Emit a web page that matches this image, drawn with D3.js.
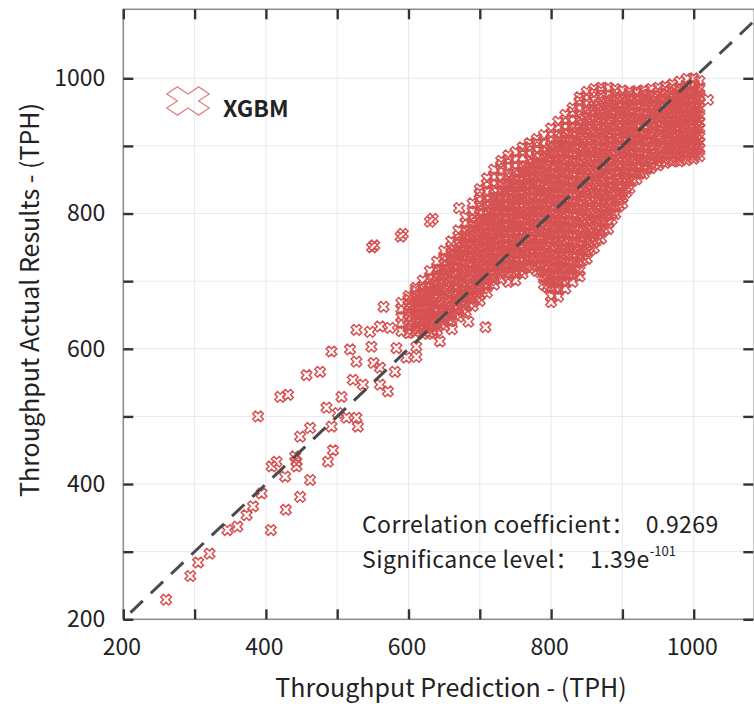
<!DOCTYPE html>
<html><head><meta charset="utf-8">
<script src="https://cdn.jsdelivr.net/npm/d3@7"></script>
<style>
body{margin:0;background:#fff}
text{font-family:"Noto Sans CJK SC","Noto Sans",sans-serif;fill:#222}
</style>
</head><body>
<svg id="chart" width="754" height="707"></svg>
<script>
// ---- data ----
const seriesName = "XGBM";
const xTicks = [200,300,400,500,600,700,800,900,1000];
const yTicks = [200,300,400,500,600,700,800,900,1000];
const xTickLabels = [200,400,600,800,1000];
const yTickLabels = [200,400,600,800,1000];
const xTitle = "Throughput Prediction - (TPH)";
const yTitle = "Throughput Actual Results - (TPH)";
const statLine1 = "Correlation coefficient\uFF1A  0.9269";
const statLine2 = "Significance level\uFF1A  1.39e";
const statExp = "-101";
const refLine = [210, 1085];

// sparse (individually readable) points
const sparsePred   = [260,294,305,321,346,360,407,373,382,428,394,389,448,462,427,408,415,441,443,443,448,462,420,431,457,476,487,494,492,485,501,506,513,527,529,492,518,522,536,527,527,546,548,551,560,560,560,565,571,574,581,583,597,611,611,644,549,552,589,592,630,634,671,623,634,661,684,708,1020];
const sparseActual = [229,264,284,297,332,337,332,354,367,362,386,500,381,406,411,426,433,441,433,426,470,483,529,532,561,566,433,450,485,513,505,529,498,498,485,596,599,554,547,581,628,625,603,579,572,547,633,662,537,631,566,601,587,588,603,611,750,753,766,770,788,792,808,636,622,629,640,632,968];

// dense cloud: one prediction value per column, actual values read down each column
const cloudPred = [590,600,610,620,630,640,650,660,670,680,690,700,710,720,730,740,750,760,770,780,790,800,810,820,830,840,850,860,870,880,890,900,910,920,930,940,950,960,970,980,990,1000,1008];
const cloudActual = [
[626,638,647,659,668],
[623,634,643,652,664,673,678],
[625,637,646,657,665,677,686,690],
[622,631,643,652,663,671,683,692,701],
[624,636,645,656,664,676,685,696,704,715],
[627,639,648,657,669,678,687,699,708,717,729],
[634,646,655,666,674,686,695,704,716,725,734,745],
[641,652,661,670,682,691,700,712,721,732,740,751,759],
[647,658,666,678,687,696,708,717,726,738,747,756,767,775],
[655,664,676,685,694,706,715,724,736,745,754,766,775,786,795],
[663,674,683,692,704,713,722,734,743,752,764,773,782,794,803,815],
[671,680,692,701,710,722,731,740,752,761,770,782,791,800,812,821,830,836],
[683,694,703,712,724,733,742,754,763,772,784,793,802,814,823,832,844,852],
[695,704,716,725,734,746,755,764,776,785,794,806,815,824,836,845,854,865],
[703,714,723,732,744,753,762,774,783,792,804,813,822,834,843,852,864,872,878],
[699,708,720,729,738,750,759,768,780,789,798,810,819,828,840,849,858,870,879,886],
[701,712,721,730,742,751,760,772,781,790,802,811,820,832,841,850,862,871,880,891],
[711,720,732,741,750,762,771,780,792,801,810,822,831,840,852,861,870,882,891,898],
[719,730,739,748,760,769,778,790,799,808,820,829,838,850,859,868,880,889,898,904],
[715,724,736,745,754,766,775,784,796,805,814,826,835,844,856,865,874,886,895,904,910],
[695,706,715,724,736,745,754,766,775,784,796,805,814,826,835,844,856,865,874,886,895,904,916],
[669,678,690,699,708,720,729,738,750,759,768,780,789,798,810,819,828,840,849,858,870,879,888,900,909,918,926],
[677,688,697,706,718,727,736,748,757,766,778,787,796,808,817,826,838,847,856,868,877,886,898,907,916,928,936],
[689,698,710,719,728,740,749,758,770,779,788,800,809,818,830,839,848,860,869,878,890,899,908,920,929,938,946],
[699,710,719,728,740,749,758,770,779,788,800,809,818,830,839,848,860,869,878,890,899,908,920,929,938,950,956],
[707,716,728,737,746,758,767,776,788,797,806,818,827,836,848,857,866,878,887,896,908,917,926,938,947,956,966,972],
[733,744,753,762,774,783,792,804,813,822,834,843,852,864,873,882,894,903,912,924,933,942,954,963,972,980],
[749,758,770,779,788,800,809,818,830,839,848,860,869,878,890,899,908,920,929,938,950,959,968,978,984],
[763,774,783,792,804,813,822,834,843,852,864,873,882,894,903,912,924,933,942,954,963,972,981,986],
[777,786,798,807,816,828,837,846,858,867,876,888,897,906,918,927,936,948,957,966,976,986],
[799,810,819,828,840,849,858,870,879,888,900,909,918,930,939,948,960,969,978,984],
[815,824,836,845,854,866,875,884,896,905,914,926,935,944,956,965,974,982],
[837,848,857,866,878,887,896,908,917,926,938,947,956,968,975,980],
[851,860,872,881,890,902,911,920,932,941,950,962,971,978,981],
[859,870,879,888,900,909,918,930,939,948,960,969,976,982],
[867,876,888,897,906,918,927,936,948,957,966,975,984],
[871,882,891,900,912,921,930,942,951,960,970,979,986],
[875,884,896,905,914,926,935,944,956,965,974,982,988],
[877,888,897,906,918,927,936,948,957,966,976,985,991],
[877,886,898,907,916,928,937,946,958,967,976,986,995],
[879,890,899,908,920,929,938,950,959,968,978,988,999],
[881,890,902,911,920,932,941,950,962,971,980,990,1000],
[885,896,905,914,926,935,944,956,965,974,985,996]
];

// dense core of the cloud, read between the columns above
const corePred = [605,615,625,635,645,655,665,675,685,695,705,715,725,735,745,755,765,775,785,795,805,815,825,835,845,855,865,875,885,895,905,915,925,935,945,955,965,975,985,995,1004];
const coreActual = [
[629,640,649,660,669],
[630,641,650,661,670,680],
[631,640,651,660,671,680,691],
[633,642,653,662,673,682,693,703],
[637,648,657,668,677,688,697,708,717],
[643,652,663,672,683,692,703,712,723,730],
[651,660,671,680,691,700,711,720,731,740,745],
[659,670,679,690,699,710,719,730,739,750,759],
[667,676,687,696,707,716,727,736,747,756,767,775],
[676,687,696,707,716,727,736,747,756,767,776,787],
[689,698,709,718,729,738,749,758,769,778,789,798,805],
[701,710,721,730,741,750,761,770,781,790,801,810,819],
[711,720,731,740,751,760,771,780,791,800,811,820,831],
[713,724,733,744,753,764,773,784,793,804,813,824,833,844],
[713,722,733,742,753,762,773,782,793,802,813,822,833,842,853],
[716,727,736,747,756,767,776,787,796,807,816,827,836,847,856],
[723,732,743,752,763,772,783,792,803,812,823,832,843,852,863,869],
[723,734,743,754,763,774,783,794,803,814,823,834,843,854,863,874],
[713,722,733,742,753,762,773,782,793,802,813,822,833,842,853,862,873,882],
[691,702,711,722,731,742,751,762,771,782,791,802,811,822,831,842,851,862,871,882,891],
[691,700,711,720,731,740,751,760,771,780,791,800,811,820,831,840,851,860,871,880,891,900],
[701,712,721,732,741,752,761,772,781,792,801,812,821,832,841,852,861,872,881,892,901,912],
[709,718,729,738,749,758,769,778,789,798,809,818,829,838,849,858,869,878,889,898,909,918],
[716,727,736,747,756,767,776,787,796,807,816,827,836,847,856,867,876,887,896,907,916,927],
[731,740,751,760,771,780,791,800,811,820,831,840,851,860,871,880,891,900,911,920,931,940],
[746,757,766,777,786,797,806,817,826,837,846,857,866,877,886,897,906,917,926,937,946,953],
[761,770,781,790,801,810,821,830,841,850,861,870,881,890,901,910,921,930,941,950,960],
[776,787,796,807,816,827,836,847,856,867,876,887,896,907,916,927,936,947,956,965],
[791,800,811,820,831,840,851,860,871,880,891,900,911,920,931,940,951,960,968],
[811,822,831,842,851,862,871,882,891,902,911,922,931,942,951,962,970],
[831,840,851,860,871,880,891,900,911,920,931,940,951,960,969],
[849,860,869,880,889,900,909,920,929,940,949,960,970],
[859,868,879,888,899,908,919,928,939,948,959,968],
[866,877,886,897,906,917,926,937,946,957,966,975],
[873,882,893,902,913,922,933,942,953,962,973],
[877,888,897,908,917,928,937,948,957,968,977],
[881,890,901,910,921,930,941,950,961,970,980],
[883,894,903,914,923,934,943,954,963,974,983],
[884,893,904,913,924,933,944,953,964,973,984],
[886,897,906,917,926,937,946,957,966,977,988],
[889,898,909,918,929,938,949,958,969,980]
];

// ---- build ----
const points = [];
sparsePred.forEach((p,i)=>points.push({p, a:sparseActual[i]}));
cloudPred.forEach((p,i)=>cloudActual[i].forEach(a=>points.push({p,a})));
corePred.forEach((p,i)=>coreActual[i].forEach(a=>points.push({p,a})));

const svg = d3.select("#chart");
const L = 123.3, R = 754.3, T = 9.3, B = 619.3;
const x = d3.scaleLinear().domain([200,1085]).range([L,R]);
const y = d3.scaleLinear().domain([200,1102]).range([B,T]);

// grid
const grid = svg.append("g").attr("stroke","#e7e9f0").attr("stroke-width",1);
grid.selectAll(".gx").data(xTicks.slice(1)).join("line")
  .attr("x1",d=>x(d)).attr("x2",d=>x(d)).attr("y1",T).attr("y2",B);
grid.selectAll(".gy").data(yTicks.slice(1)).join("line")
  .attr("y1",d=>y(d)).attr("y2",d=>y(d)).attr("x1",L).attr("x2",R);

// markers
const sym = d3.symbol().type(d3.symbolCross).size(70);
svg.append("g").selectAll("path").data(points).join("path")
  .attr("d", sym)
  .attr("transform", d=>`translate(${x(d.p)},${y(d.a)}) rotate(45)`)
  .attr("fill","none").attr("stroke","#d65252").attr("stroke-width",1.5);

// reference line
svg.append("line")
  .attr("x1",x(refLine[0])).attr("y1",y(refLine[0]))
  .attr("x2",x(refLine[1])).attr("y2",y(refLine[1]))
  .attr("stroke","#4a4a4a").attr("stroke-width",3)
  .attr("stroke-dasharray","17,11");

// frame
svg.append("rect").attr("x",L).attr("y",T).attr("width",R-L).attr("height",B-T)
  .attr("fill","none").attr("stroke","#8e8e8e").attr("stroke-width",1.6);

// axes
function styleAxis(g){
  g.select(".domain").remove();
  g.selectAll(".tick line").attr("stroke","#333").attr("stroke-width",2.4);
  g.selectAll(".tick text").attr("font-size",23).attr("fill","#222")
   .attr("font-family",'"Noto Sans CJK SC","Noto Sans",sans-serif');
}
const fmtX = d => xTickLabels.includes(d) ? d : "";
const fmtY = d => yTickLabels.includes(d) ? d : "";
svg.append("g").attr("transform",`translate(-2,${B})`)
  .call(d3.axisBottom(x).tickValues(xTicks).tickSize(-10).tickPadding(19).tickFormat(fmtX))
  .call(styleAxis)
  .call(g=>g.selectAll(".tick line").attr("transform","translate(2,0)"));
svg.append("g").attr("transform",`translate(0,${T})`)
  .call(d3.axisTop(x).tickValues(xTicks).tickSize(-10).tickFormat(""))
  .call(styleAxis);
svg.append("g").attr("transform",`translate(${L},0)`)
  .call(d3.axisLeft(y).tickValues(yTicks).tickSize(-10).tickPadding(18).tickFormat(fmtY))
  .call(styleAxis);
svg.append("g").attr("transform",`translate(${R-1},0)`)
  .call(d3.axisRight(y).tickValues(yTicks).tickSize(-10).tickFormat(""))
  .call(styleAxis);

// titles
svg.append("text").attr("x",451).attr("y",697).attr("text-anchor","middle")
  .attr("font-size",25).text(xTitle);
svg.append("text").attr("transform","translate(39,300) rotate(-90)")
  .attr("text-anchor","middle").attr("font-size",25).text(yTitle);

// legend
svg.append("path").attr("d", d3.symbol().type(d3.symbolCross).size(500))
  .attr("transform","translate(188,101) scale(1.5,1) rotate(45)")
  .attr("fill","none").attr("stroke","#e08585").attr("stroke-width",1.3)
  .attr("vector-effect","non-scaling-stroke");
svg.append("text").attr("x",223).attr("y",117).attr("font-size",23)
  .attr("font-weight","bold").attr("fill","#111").text(seriesName);

// stats
svg.append("text").attr("x",362).attr("y",533).attr("font-size",23)
  .attr("letter-spacing",0.45).style("white-space","pre").text(statLine1);
const t2 = svg.append("text").attr("x",362).attr("y",567.5).attr("font-size",23)
  .attr("letter-spacing",0.45).style("white-space","pre");
t2.append("tspan").text(statLine2);
t2.append("tspan").attr("dy",-11.5).attr("font-size",13).attr("letter-spacing",0).text(statExp);
</script>
</body></html>
